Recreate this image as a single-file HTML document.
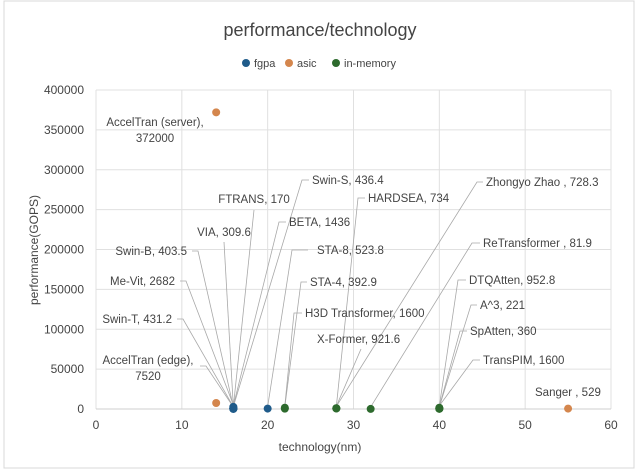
<!DOCTYPE html>
<html><head><meta charset="utf-8"><style>
body{margin:0;background:#fff;font-family:"Liberation Sans",sans-serif;}
svg text{font-family:"Liberation Sans",sans-serif;fill:#444;}
</style></head><body>
<svg id="c" width="640" height="471">
<rect x="4" y="1" width="630" height="467" fill="#fff" stroke="#d8d8d8"/>
<text x="320" y="36" font-size="18" text-anchor="middle" fill="#555">performance/technology</text>
<g>
<circle cx="246" cy="63" r="4" fill="#1f5b8a"/><text x="254" y="67" font-size="11">fgpa</text>
<circle cx="289" cy="63" r="4" fill="#d4864d"/><text x="297" y="67" font-size="11">asic</text>
<circle cx="336" cy="63" r="4" fill="#2d6a2d"/><text x="344" y="67" font-size="11">in-memory</text>
</g>
<g id="grid"></g><g id="ticks"></g><g id="leaders"></g><g id="pts"></g><g id="lbls"></g>
<text x="320" y="451" font-size="12" text-anchor="middle" fill="#555">technology(nm)</text>
<text transform="translate(38,250) rotate(-90)" font-size="12" text-anchor="middle" fill="#555">performance(GOPS)</text>
</svg>
<script>
const xTicks=[0,10,20,30,40,50,60];
const yTicks=[0,50000,100000,150000,200000,250000,300000,350000,400000];
const seriesNames=['fgpa','asic','in-memory'];
const fpgaX=[16,16,16,16,16,16,16,16,20];
const fpgaY=[403.5,2682,431.2,309.6,170,1436,436.4,523.8,523.8];
const asicX=[14,14,55];
const asicY=[372000,7520,529];
const memX=[22,22,28,28,28,32,40,40,40,40];
const memY=[392.9,1600,921.6,734,728.3,81.9,952.8,221,360,1600];
const colors=['#1f5b8a','#d4864d','#2d6a2d'];
const X=v=>96+v*(515/60);
const Y=v=>409-v*(319/400000);
const NS='http://www.w3.org/2000/svg';
function mk(tag,attrs,parent){const e=document.createElementNS(NS,tag);for(const k in attrs)e.setAttribute(k,attrs[k]);document.getElementById(parent).appendChild(e);return e;}
xTicks.forEach(t=>{const l=mk('line',{x1:X(t),x2:X(t),y1:Y(0),y2:Y(400000),stroke:'#e0e0e0'},'grid');


const tx=mk('text',{x:X(t),y:429,'font-size':12,'text-anchor':'middle'},'ticks');tx.textContent=t;

});
yTicks.forEach(t=>{const l=mk('line',{x1:X(0),x2:X(60),y1:Y(t),y2:Y(t),stroke:t===0?'#cfcfcf':'#e0e0e0'},'grid');


const tx=mk('text',{x:84,y:Y(t)+4,'font-size':12,'text-anchor':'end'},'ticks');tx.textContent=t;

});
// labels: [text, lx, ly, anchor, leader elbow x (or null), target x, target y]
const labels=[
["Swin-B, 403.5",187,255,"end",[[192,251],[198,251]],16,403.5],
["Me-Vit, 2682",175,285,"end",[[180,281],[186,281]],16,2682],
["Swin-T, 431.2",172,323,"end",[[177,319],[183,319]],16,431.2],
["VIA, 309.6",224,236,"middle",[[224,242]],16,309.6],
["FTRANS, 170",254,203,"middle",[[254,210]],16,170],
["BETA, 1436",289,226,"start",[[286,222],[279,222]],16,1436],
["Swin-S, 436.4",312,184,"start",[[309,180],[302,180]],16,436.4],
["STA-8, 523.8",317,254,"start",[[308,250],[292,250]],20,523.8],
["STA-4, 392.9",310,286,"start",[[307,282],[301,282]],22,392.9],
["H3D Transformer, 1600",305,317,"start",[[302,313],[294,313]],22,1600],
["X-Former, 921.6",317,343,"start",[[361,349]],28,921.6],
["HARDSEA, 734",368,202,"start",[[365,198],[358,198]],28,734],
["Zhongyo Zhao , 728.3",486,186,"start",[[483,182],[477,182]],28,728.3],
["ReTransformer , 81.9",483,247,"start",[[480,243],[472,243]],32,81.9],
["DTQAtten, 952.8",469,284,"start",[[466,280],[458,280]],40,952.8],
["A^3, 221",480,309,"start",[[477,305],[471,305]],40,221],
["SpAtten, 360",470,335,"start",[[467,331],[460,331]],40,360],
["TransPIM, 1600",483,364,"start",[[480,360],[473,360]],40,1600],
["Sanger , 529",535,396,"start",null,55,529]
];
labels.forEach(L=>{
 if(L[4]){const pts=L[4].map(p=>p.join(',')).concat([X(L[5])+','+(Y(L[6])-2)]).join(' ');
 const pl=mk('polyline',{points:pts,fill:'none',stroke:'#a8a8a8','stroke-width':0.8},'leaders');
 
 }
 const t=mk('text',{x:L[1],y:L[2],'font-size':11.5,'text-anchor':L[3]},'lbls');t.textContent=L[0];
 
 
});
// AccelTran labels (two-line)
[["AccelTran (server),","372000",155,126],["AccelTran (edge),","7520",148,364]].forEach(a=>{
 const t=mk('text',{x:a[2],y:a[3],'font-size':11.5,'text-anchor':'middle'},'lbls');t.textContent=a[0];
 
 
 const t2=mk('text',{x:a[2],y:a[3]+16,'font-size':11.5,'text-anchor':'middle'},'lbls');t2.textContent=a[1];
 
 
});
{const pl=mk('polyline',{points:'200,366 206,366 '+X(16)+','+(Y(0)-2),fill:'none',stroke:'#a8a8a8','stroke-width':0.8},'leaders');

}
[[fpgaX,fpgaY],[asicX,asicY],[memX,memY]].forEach((s,i)=>{
 s[0].forEach((x,j)=>{const c=mk('circle',{cx:X(x),cy:Y(s[1][j]),r:4,fill:colors[i]},'pts');
 
 });
});
</script>
</body></html>
